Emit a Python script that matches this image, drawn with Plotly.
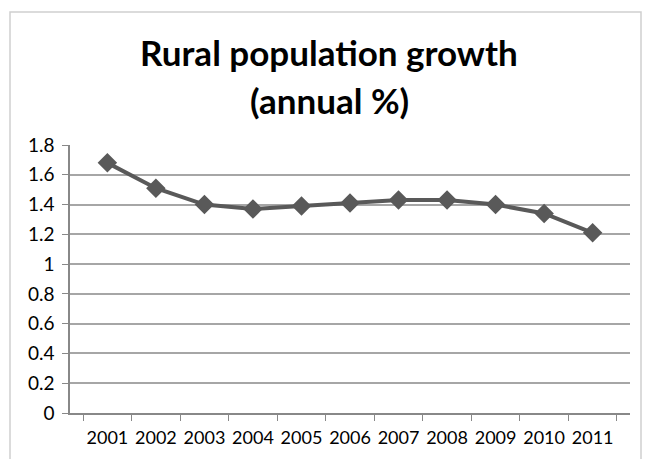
import plotly.graph_objects as go

years = ["2001", "2002", "2003", "2004", "2005", "2006", "2007", "2008", "2009", "2010", "2011"]
growth = [1.68, 1.51, 1.40, 1.37, 1.39, 1.41, 1.43, 1.43, 1.40, 1.34, 1.21]
y_ticks = [0, 0.2, 0.4, 0.6, 0.8, 1, 1.2, 1.4, 1.6, 1.8]
y_labels = ["0", "0.2", "0.4", "0.6", "0.8", "1", "1.2", "1.4", "1.6", "1.8"]
title_lines = ["Rural population growth", "(annual %)"]

W, H = 655, 459
L, R, T, B = 70, 25, 145, 46
pw, ph = W - L - R, H - T - B

def px_x(px):
    return (px - L) / pw

def px_y(py):
    return (H - B - py) / ph

fig = go.Figure()
fig.add_trace(go.Scatter(
    x=years, y=growth, mode="lines+markers",
    line=dict(color="#595959", width=4),
    marker=dict(symbol="diamond", size=15, color="#595959"),
    showlegend=False,
))

annotations = []
for line, py in zip(title_lines, [52, 100]):
    annotations.append(dict(
        text="<b>%s</b>" % line, xref="paper", yref="paper",
        x=px_x(329), y=px_y(py), xanchor="center", yanchor="middle",
        showarrow=False, font=dict(size=35, family="Lato, sans-serif", color="#000000"),
    ))

fig.update_layout(
    width=W, height=H,
    margin=dict(l=L, r=R, t=T, b=B),
    paper_bgcolor="white", plot_bgcolor="white",
    font=dict(family="Lato, sans-serif", color="#000000"),
    annotations=annotations,
    xaxis=dict(
        type="category", tickson="boundaries", tickangle=0,
        ticks="outside", ticklen=6, tickcolor="#888888", tickwidth=1,
        showline=True, linecolor="#888888", linewidth=1.5,
        showgrid=False, tickfont=dict(size=18), ticklabelstandoff=8,
        fixedrange=True,
    ),
    yaxis=dict(
        range=[0, 1.8], tickvals=y_ticks, ticktext=y_labels,
        ticks="outside", ticklen=6, tickcolor="#888888",
        showline=True, linecolor="#888888", linewidth=1.5,
        showgrid=True, gridcolor="#a6a6a6", gridwidth=1.5,
        zeroline=False, tickfont=dict(size=19), ticklabelstandoff=4,
        fixedrange=True,
    ),
    shapes=[dict(
        type="rect", xref="paper", yref="paper",
        x0=px_x(10), x1=px_x(641), y0=px_y(470), y1=px_y(12),
        line=dict(color="#d0d0d0", width=1.5), layer="below",
    )],
)

fig.write_html("out.html")
